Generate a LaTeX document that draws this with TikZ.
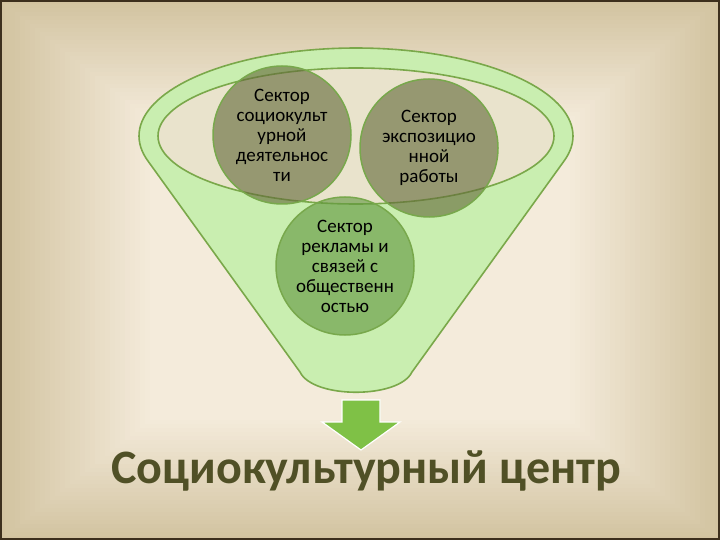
\documentclass[tikz,border=0pt]{standalone}
\usepackage{fontspec}
\setmainfont{Carlito}
\definecolor{bgEdge}{HTML}{D2C3A0}
\definecolor{bgMid}{HTML}{F4EBDB}
\definecolor{frameCol}{HTML}{3C2F1D}
\definecolor{funnelGreen}{HTML}{C9EEB0}
\definecolor{funnelLine}{HTML}{7AA84A}
\definecolor{innerFill}{HTML}{E9E3CC}
\definecolor{sectorOlive}{RGB}{100,106,58}
\definecolor{sectorGreen}{RGB}{98,152,64}
\definecolor{sectorLine}{HTML}{78A84C}
\definecolor{arrowGreen}{HTML}{7FC146}
\definecolor{titleCol}{HTML}{505026}
\tikzset{
  funnelstyle/.style={draw=funnelLine, line width=1.6pt, line join=round},
  sectorbase/.style={circle, minimum size=138pt, inner sep=0pt, draw=sectorLine,
    line width=1.5pt, align=center, text=black, fill opacity=0.62, text opacity=1,
    font=\fontsize{19}{20}\selectfont},
  sectorolive/.style={sectorbase, fill=sectorOlive},
  sectorgreen/.style={sectorbase, fill=sectorGreen},
  blockarrow/.style={fill=arrowGreen, draw=white, line width=1.2pt, line join=miter},
  titlestyle/.style={font=\fontsize{48}{48}\selectfont\bfseries, text=titleCol, inner sep=0pt}
}
\begin{document}
\begin{tikzpicture}[x=1pt,y=-1pt]
\useasboundingbox (0,0) rectangle (720,540);
% background gradient
\foreach \i in {0,...,30} {
  \pgfmathtruncatemacro\p{100-\i*100/30}
  \fill[bgEdge!\p!bgMid] (\i*5,\i*4) rectangle (720-\i*5,540-\i*4);
}
\draw[frameCol, line width=2pt] (1,1) rectangle (719,539);
% funnel body
\draw[funnelstyle, fill=funnelGreen]
  plot[variable=\t, domain=163:377, samples=90] ({356+217*cos(\t)},{136+88*sin(\t)})
  -- (412,372) .. controls (399,399) and (313,399) .. (300,372) -- cycle;
% opening
\draw[funnelstyle, fill=innerFill] (356,136) ellipse [x radius=198, y radius=68];
% sectors
\node[sectorgreen] (c3) at (345,266) {Сектор\\рекламы и\\связей с\\общественн\\остью};
\node[sectorolive] (c1) at (282,135) {Сектор\\социокульт\\урной\\деятельнос\\ти};
\node[sectorolive] (c2) at (429,148) {Сектор\\экспозицио\\нной\\работы};
% arrow
\draw[blockarrow] (342,400) -- (380,400) -- (380,422) -- (400,422) -- (361,450)
  -- (322,422) -- (342,422) -- cycle;
% title
\node[titlestyle, anchor=base] (title) at (366,483) {Социокультурный центр};
\end{tikzpicture}
\end{document}
